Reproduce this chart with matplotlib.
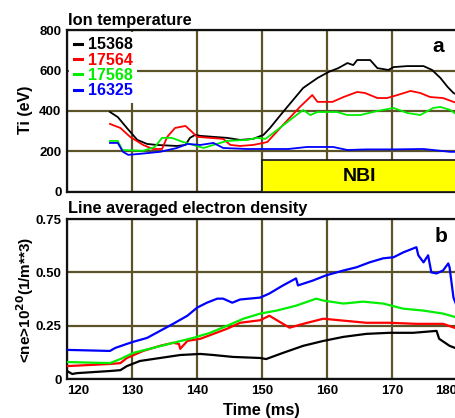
import matplotlib
matplotlib.use("Agg")
import matplotlib.pyplot as plt
from matplotlib.patches import Rectangle

plt.rcParams['font.family'] = ['Liberation Sans', 'DejaVu Sans']
plt.rcParams['font.weight'] = 'bold'

# ---- panel a: ion temperature (eV) ----
ti_15368_t = [126.6, 127.8, 129.2, 130.8, 132.3, 133.8, 136.9, 138.2, 138.9, 139.7, 140.5, 142.5, 144.6,
              146.6, 148.6, 150.2, 151.2, 153.2, 156.3, 158.5, 160.2, 161.7, 163.1, 164.0, 164.6, 166.6,
              167.7, 169.4, 170.2, 172.3, 174.8, 176.1, 177.4, 178.5, 179.4, 180.0]
ti_15368 = [395, 370, 316, 257, 237, 232, 227, 232, 267, 282, 277, 272, 267,
            257, 262, 282, 316, 395, 514, 563, 593, 612, 637, 627, 652, 652,
            612, 603, 617, 622, 622, 603, 563, 519, 489, 479]

ti_17564_t = [126.6, 128.2, 129.7, 131.7, 133.2, 134.6, 135.4, 136.6, 138.2, 138.9, 140.0, 142.0, 144.0,
              145.1, 146.6, 148.6, 150.2, 150.8, 153.2, 155.8, 157.7, 158.5, 159.4, 160.8, 162.5, 164.6,
              165.8, 167.7, 169.2, 170.8, 172.8, 174.3, 175.8, 177.8, 179.4, 180.0]
ti_17564 = [336, 316, 272, 232, 212, 212, 272, 316, 326, 306, 272, 267, 262,
            232, 227, 232, 242, 247, 331, 420, 479, 445, 445, 445, 469, 494,
            489, 464, 464, 479, 499, 489, 469, 464, 445, 440]

ti_17568_t = [126.6, 127.8, 128.5, 131.7, 133.5, 134.6, 136.1, 137.8, 139.4, 141.0, 142.5, 144.6, 147.7,
              149.2, 150.5, 152.3, 154.3, 156.3, 157.4, 158.5, 160.0, 161.5, 163.1, 165.1, 167.7, 170.2,
              172.3, 174.3, 176.3, 177.4, 178.9, 180.0]
ti_17568 = [252, 252, 207, 203, 222, 267, 267, 247, 232, 217, 232, 252, 257,
            267, 262, 306, 356, 405, 380, 395, 395, 395, 380, 380, 400, 415,
            390, 380, 415, 420, 405, 380]

ti_16325_t = [126.6, 127.8, 128.6, 129.4, 131.2, 134.3, 136.9, 138.5, 140.5, 142.5, 144.0, 147.7, 150.8,
              154.0, 156.9, 160.9, 163.1, 166.0, 170.0, 174.8, 178.9, 180.0]
ti_16325 = [242, 242, 198, 183, 188, 198, 217, 237, 232, 242, 217, 212, 212,
            212, 222, 222, 207, 210, 210, 212, 198, 198]

# ---- panel b: line averaged electron density (1e20 m^-3) ----
ne_15368_t = [120.0, 120.8, 121.5, 126.6, 128.2, 129.2, 131.2, 134.3, 137.4, 140.5, 142.5, 145.5, 149.7,
              150.6, 153.2, 156.3, 159.4, 162.5, 166.0, 169.5, 173.2, 176.8, 177.2, 178.8, 180.0]
ne_15368 = [0.038, 0.024, 0.028, 0.038, 0.042, 0.061, 0.085, 0.099, 0.113, 0.118, 0.113, 0.104, 0.099,
            0.094, 0.123, 0.156, 0.179, 0.198, 0.212, 0.217, 0.217, 0.226, 0.189, 0.156, 0.142]

ne_17564_t = [120.0, 126.6, 128.2, 129.2, 131.7, 134.3, 136.3, 137.2, 137.4, 138.5, 140.5, 142.5, 144.6,
              146.6, 149.7, 151.1, 153.2, 154.2, 156.3, 159.4, 162.5, 166.0, 169.5, 173.7, 177.8, 180.0]
ne_17564 = [0.061, 0.071, 0.075, 0.099, 0.132, 0.156, 0.170, 0.165, 0.142, 0.179, 0.189, 0.212, 0.236,
            0.264, 0.276, 0.297, 0.259, 0.241, 0.259, 0.283, 0.274, 0.264, 0.264, 0.259, 0.259, 0.236]

ne_17568_t = [120.0, 126.6, 128.2, 130.2, 133.2, 136.3, 139.4, 142.0, 144.6, 147.1, 149.7, 152.2, 155.2,
              158.3, 159.4, 162.5, 165.5, 168.6, 171.7, 174.8, 177.8, 180.0]
ne_17568 = [0.080, 0.075, 0.094, 0.123, 0.146, 0.170, 0.193, 0.217, 0.250, 0.283, 0.307, 0.321, 0.344,
            0.377, 0.368, 0.354, 0.363, 0.354, 0.330, 0.321, 0.307, 0.288]

ne_16325_t = [120.0, 126.6, 127.4, 129.2, 130.2, 132.3, 134.3, 136.3, 138.5, 140.0, 141.5, 143.1, 144.0,
              145.4, 146.6, 149.7, 151.1, 153.2, 155.2, 155.5, 157.8, 159.8, 162.5, 164.5, 166.5, 168.6,
              170.2, 171.7, 173.7, 174.0, 174.8, 175.5, 176.0, 176.8, 177.8, 178.6, 178.8, 179.4, 180.0]
ne_16325 = [0.137, 0.132, 0.146, 0.165, 0.175, 0.193, 0.226, 0.259, 0.297, 0.335, 0.358, 0.377, 0.377,
            0.358, 0.373, 0.382, 0.401, 0.439, 0.472, 0.439, 0.462, 0.486, 0.509, 0.524, 0.547, 0.566,
            0.571, 0.594, 0.618, 0.580, 0.547, 0.580, 0.500, 0.495, 0.509, 0.542, 0.524, 0.382, 0.335]

shots = ['15368', '17564', '17568', '16325']
colors = ['#000000', '#ff0000', '#00ee00', '#0000ff']
x_ticks = [120, 130, 140, 150, 160, 170, 180]
ti_ticks = [0, 200, 400, 600, 800]
ne_ticks = [0, 0.25, 0.50, 0.75]
ne_tick_labels = ['0', '0.25', '0.50', '0.75']
nbi_start, nbi_end, nbi_height = 150, 182, 158

GRID = '#5c5428'

fig = plt.figure(figsize=(4.56, 4.18), dpi=100)
ax1 = fig.add_axes([0.147, 0.541, 0.856, 0.387])
ax2 = fig.add_axes([0.147, 0.093, 0.856, 0.383])


def style(ax):
    ax.set_axisbelow(True)
    ax.grid(True, color=GRID, lw=1.6)
    for s in ax.spines.values():
        s.set_linewidth(1.6)
        s.set_color('#111111')
    ax.tick_params(length=0, labelsize=9.5, pad=4)
    ax.set_xlim(120, 179.9)
    ax.set_xticks(x_ticks)


style(ax1)
style(ax2)

ti_data = [(ti_15368_t, ti_15368), (ti_17564_t, ti_17564), (ti_17568_t, ti_17568), (ti_16325_t, ti_16325)]
for (t, v), c, lab in zip(ti_data, colors, shots):
    ax1.plot(t, v, color=c, lw=1.3, label=lab, zorder=3)

ax1.add_patch(Rectangle((nbi_start, 0), nbi_end - nbi_start, nbi_height, facecolor='#ffff00',
                        edgecolor='#222222', lw=1.3, zorder=4, clip_on=True))
ax1.text(165, 78, 'NBI', fontsize=14, fontweight='bold', ha='center', va='center', zorder=5)
ax1.text(0.965, 0.9, 'a', transform=ax1.transAxes, fontsize=15, fontweight='bold', ha='right', va='center')
ax1.set_ylim(0, 800)
ax1.set_yticks(ti_ticks)
ax1.set_xticklabels([])

leg = ax1.legend(loc='upper left', frameon=True, fancybox=False, framealpha=1, edgecolor='none',
                 handlelength=0.5, handletextpad=0.35, labelspacing=0.02, borderpad=0.3,
                 borderaxespad=0.15, prop={'size': 11.5, 'weight': 'bold'}, labelcolor='linecolor')
for h in leg.get_lines():
    h.set_linewidth(2.2)
leg.set_zorder(6)

ne_data = [(ne_15368_t, ne_15368), (ne_17564_t, ne_17564), (ne_17568_t, ne_17568), (ne_16325_t, ne_16325)]
for (t, v), c in zip(ne_data, colors):
    ax2.plot(t, v, color=c, lw=1.6, zorder=3)
ax2.set_ylim(0, 0.75)
ax2.set_yticks(ne_ticks)
ax2.set_yticklabels(ne_tick_labels)
ax2.set_xticklabels([str(x) for x in x_ticks])
xl = ax2.get_xticklabels()
xl[0].set_ha('left')
xl[-1].set_ha('right')
ax2.text(0.975, 0.89, 'b', transform=ax2.transAxes, fontsize=15, fontweight='bold', ha='right', va='center')

fig.text(0.149, 0.952, 'Ion temperature', fontsize=11.8, fontweight='bold', ha='left', va='center')
fig.text(0.149, 0.502, 'Line averaged electron density', fontsize=11.8, fontweight='bold', ha='left', va='center')
fig.text(0.055, 0.737, 'Ti (eV)', fontsize=11.5, fontweight='bold', rotation=90, ha='center', va='center')
fig.text(0.055, 0.282, r'<ne>10$^{\mathbf{20}}$(1/m**3)', fontsize=11, fontweight='bold', rotation=90,
         ha='center', va='center')
fig.text(0.573, 0.019, 'Time (ms)', fontsize=11.8, fontweight='bold', ha='center', va='center')

fig.savefig('out.png', dpi=100)
